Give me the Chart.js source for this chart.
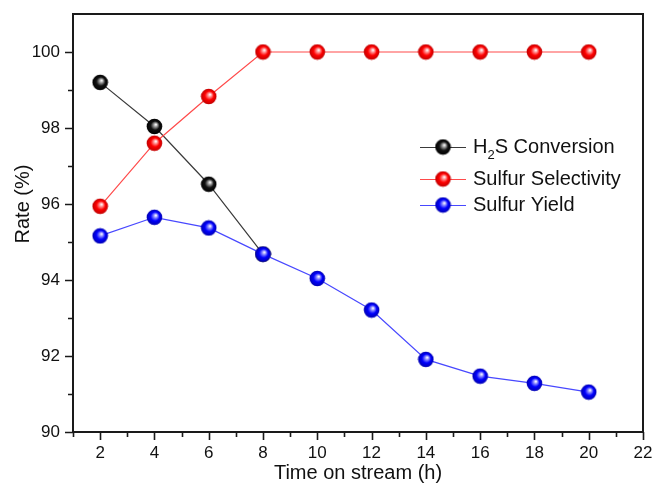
<!DOCTYPE html>
<html>
<head>
<meta charset="utf-8">
<script src="https://cdn.jsdelivr.net/npm/chart.js@4"></script>
<style>
  html, body { margin: 0; padding: 0; background: #fff; }
  #wrap { width: 655px; height: 486px; position: relative; }
</style>
</head>
<body>
<div id="wrap"><canvas id="c"></canvas></div>
<script>
// data
const timeOnStream = [2, 4, 6, 8, 10, 12, 14, 16, 18, 20];
const h2sConversion = [99.2, 98.04, 96.52, 94.68];
const sulfurSelectivity = [95.94, 97.6, 98.83, 100, 100, 100, 100, 100, 100, 100];
const sulfurYield = [95.16, 95.65, 95.37, 94.68, 94.04, 93.21, 91.91, 91.47, 91.28, 91.05];

const xTickLabels = [2, 4, 6, 8, 10, 12, 14, 16, 18, 20, 22];
const yTickLabels = [90, 92, 94, 96, 98, 100];

const FONT = '"Liberation Sans", Arial, sans-serif';

// shiny ball marker, drawn once per colour
function makeSphere(base, dark, light) {
    const r = 7.8;
    const c = document.createElement('canvas');
    c.width = 17; c.height = 17;
    const g = c.getContext('2d');
    const cx = 8.5, cy = 8.5;
    const grad = g.createRadialGradient(cx + 1.5, cy - 2, 0.3, cx, cy, r);
    grad.addColorStop(0, '#ffffff');
    grad.addColorStop(0.22, light);
    grad.addColorStop(0.55, base);
    grad.addColorStop(1, dark);
    g.fillStyle = grad;
    g.beginPath();
    g.arc(cx, cy, r, 0, Math.PI * 2);
    g.fill();
    return c;
}

const blackBall = makeSphere('#111111', '#000000', '#9a9a9a');
const redBall = makeSphere('#ff0000', '#c00000', '#ff9090');
const blueBall = makeSphere('#0000ff', '#0000b0', '#8c8cff');

const series = [
    { label: 'H2S Conversion', values: h2sConversion, color: '#3a3a3a', ball: blackBall, order: 3 },
    { label: 'Sulfur Selectivity', values: sulfurSelectivity, color: '#ff4a4a', ball: redBall, order: 2 },
    { label: 'Sulfur Yield', values: sulfurYield, color: '#4848ff', ball: blueBall, order: 1 }
];

const datasets = series.map(s => ({
    label: s.label,
    data: s.values.map((v, i) => ({ x: timeOnStream[i], y: v })),
    borderColor: s.color,
    borderWidth: 1.2,
    pointStyle: s.ball,
    pointRadius: 7.5,
    tension: 0,
    fill: false,
    order: s.order
}));

// frame, tick marks, axis titles and the in-plot legend
const decorPlugin = {
    id: 'decor',
    afterDraw(chart) {
        const ctx = chart.ctx;
        const { left, right, top, bottom } = chart.chartArea;
        const xs = chart.scales.x, ys = chart.scales.y;
        ctx.save();

        ctx.strokeStyle = '#1a1a1a';
        ctx.lineWidth = 2;
        ctx.strokeRect(left, top, right - left, bottom - top);

        ctx.lineWidth = 1.6;
        ctx.beginPath();
        for (let v = 1; v <= 22; v++) {
            const px = Math.round(xs.getPixelForValue(v)) + 0.5;
            const len = v % 2 === 0 ? 8 : 5;
            ctx.moveTo(px, bottom);
            ctx.lineTo(px, bottom + len);
        }
        for (let v = 90; v <= 100; v++) {
            const py = Math.round(ys.getPixelForValue(v)) + 0.5;
            const len = v % 2 === 0 ? 8 : 5;
            ctx.moveTo(left, py);
            ctx.lineTo(left - len, py);
        }
        ctx.stroke();

        // axis titles
        ctx.fillStyle = '#111';
        ctx.font = '20px ' + FONT;
        ctx.textAlign = 'center';
        ctx.textBaseline = 'middle';
        ctx.fillText('Time on stream (h)', (left + right) / 2, 473);
        ctx.save();
        ctx.translate(23, 204);
        ctx.rotate(-Math.PI / 2);
        ctx.fillText('Rate (%)', 0, 0);
        ctx.restore();

        // legend
        const rowsY = [147, 179, 205];
        series.forEach((s, i) => {
            const y = rowsY[i];
            ctx.strokeStyle = s.color;
            ctx.lineWidth = 1.2;
            ctx.beginPath();
            ctx.moveTo(420, y + 0.5);
            ctx.lineTo(466, y + 0.5);
            ctx.stroke();
            ctx.drawImage(s.ball, 443 - 8.5, y - 8.5);

            ctx.fillStyle = '#111';
            ctx.textAlign = 'left';
            ctx.textBaseline = 'middle';
            ctx.font = '20px ' + FONT;
            let x = 473;
            if (s.label.startsWith('H2S')) {
                ctx.fillText('H', x, y);
                x += ctx.measureText('H').width;
                ctx.font = '13px ' + FONT;
                ctx.fillText('2', x, y + 8);
                x += ctx.measureText('2').width;
                ctx.font = '20px ' + FONT;
                ctx.fillText('S Conversion', x, y);
            } else {
                ctx.fillText(s.label, x, y);
            }
        });

        ctx.restore();
    }
};

new Chart(document.getElementById('c'), {
    type: 'line',
    data: { datasets },
    options: {
        responsive: true,
        maintainAspectRatio: false,
        animation: false,
        layout: { padding: { top: 14, right: 12, left: 0, bottom: 0 } },
        plugins: {
            legend: { display: false },
            tooltip: { enabled: false }
        },
        scales: {
            x: {
                type: 'linear',
                min: 1,
                max: 22,
                afterFit: s => { s.height = 54; s.paddingLeft = 0; s.paddingRight = 0; },
                grid: { display: false, drawTicks: false, tickLength: 0 },
                border: { display: false },
                ticks: {
                    stepSize: 1,
                    padding: 11,
                    color: '#111',
                    font: { family: FONT, size: 17 },
                    maxRotation: 0,
                    autoSkip: false,
                    callback: v => xTickLabels.includes(v) ? String(v) : ''
                }
            },
            y: {
                type: 'linear',
                min: 90,
                max: 101,
                afterFit: s => { s.width = 73; s.paddingTop = 0; s.paddingBottom = 0; },
                grid: { display: false, drawTicks: false, tickLength: 0 },
                border: { display: false },
                ticks: {
                    stepSize: 1,
                    padding: 13,
                    color: '#111',
                    font: { family: FONT, size: 17 },
                    autoSkip: false,
                    callback: v => yTickLabels.includes(v) ? String(v) : ''
                }
            }
        }
    },
    plugins: [decorPlugin]
});
</script>
</body>
</html>
